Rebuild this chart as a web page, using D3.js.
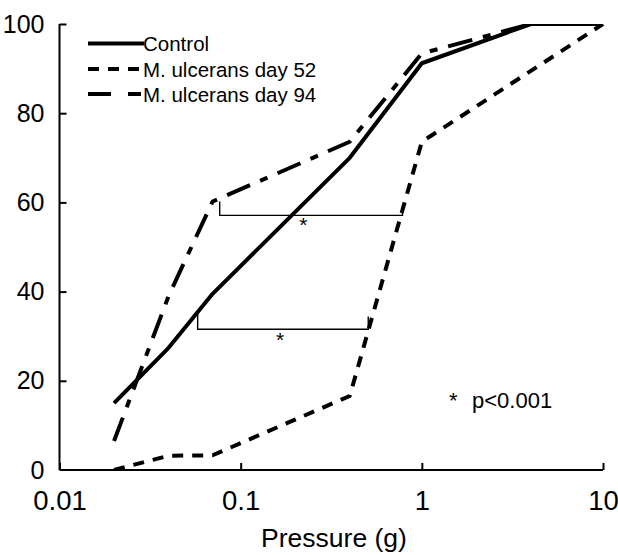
<!DOCTYPE html>
<html>
<head>
<meta charset="utf-8">
<script src="https://cdn.jsdelivr.net/npm/d3@7"></script>
<style>
  html, body { margin: 0; padding: 0; background: #fff; }
  text { font-family: "Liberation Sans", Arial, sans-serif; fill: #000; }
</style>
</head>
<body>
<svg id="chart" width="618" height="555"></svg>
<script>
// ---- data ----
const pressure = [0.02, 0.04, 0.07, 0.4, 1, 4, 10];
const controlValues = [15, 27.4, 39.5, 70, 91.2, 100, 100];
const day52Pressure = [0.02, 0.04, 0.07, 0.4, 1, 10];
const day52Values = [0, 3.2, 3.3, 16.6, 73.6, 100];
const day94Pressure = [0.02, 0.04, 0.07, 0.4, 1, 4];
const day94Values = [6.5, 39, 60.2, 73.6, 93.4, 100];
const seriesNames = ["Control", "M. ulcerans day 52", "M. ulcerans day 94"];
const xTicks = [0.01, 0.1, 1, 10];
const xTickLabels = ["0.01", "0.1", "1", "10"];
const yTicks = [0, 20, 40, 60, 80, 100];
// significance brackets (data units)
const bracketLeftX = [0.0766, 0.0579];
const bracketRightX = [0.782, 0.506];
const bracketBarY = [57.1, 31.55];
const bracketLeftTop = [60.2, 35.5];
const bracketRightTop = [59.4, 34.4];
const starX = [0.2216, 0.165];
const starY = [56.0, 30.3];

(function () {
// ---- layout ----
const svg = d3.select("#chart");
const mLeft = 59.5, mRight = 603, mTop = 24, mBottom = 470;
const x = d3.scaleLog().domain([0.01, 10]).range([mLeft, mRight]);
const y = d3.scaleLinear().domain([0, 100]).range([mBottom, mTop]);

const font = '"Liberation Sans", Arial, sans-serif';

// clip to plot area
svg.append("defs").append("clipPath").attr("id", "plotclip")
  .append("rect").attr("x", mLeft).attr("y", mTop)
  .attr("width", mRight - mLeft + 1).attr("height", mBottom - mTop);

// axes
const xAxis = d3.axisBottom(x).tickValues(xTicks)
  .tickFormat((d, i) => xTickLabels[i]).tickSize(-7).tickPadding(20);
const gx = svg.append("g").attr("transform", `translate(0,${mBottom})`).call(xAxis);
const yAxis = d3.axisLeft(y).tickValues(yTicks).tickSize(-7).tickPadding(15);
const gy = svg.append("g").attr("transform", `translate(${mLeft},0)`).call(yAxis);
[gx, gy].forEach(g => {
  g.select(".domain").attr("stroke", "#000").attr("stroke-width", 2);
  g.selectAll(".tick line").attr("stroke", "#000").attr("stroke-width", 2);
  g.selectAll(".tick text").attr("font-family", font).attr("fill", "#000");
});
gx.selectAll(".tick text").attr("font-size", 27.5);
gy.selectAll(".tick text").attr("font-size", 25);
gx.select(".domain").attr("d", `M${mLeft},0H${mRight}`);
gy.select(".domain").attr("d", `M0,${mTop}V${mBottom}`);
gy.selectAll(".tick").filter(d => d === 0).select("line").remove();

// series
const line = d3.line().x(d => x(d[0])).y(d => y(d[1]));
const plot = svg.append("g").attr("clip-path", "url(#plotclip)");
const series = [
  { pts: d3.zip(pressure, controlValues), dash: null },
  { pts: d3.zip(day52Pressure, day52Values), dash: "11,9" },
  { pts: d3.zip(day94Pressure, day94Values), dash: "25,11,8,11" }
];
series.forEach(s => {
  plot.append("path").datum(s.pts)
    .attr("d", line).attr("fill", "none").attr("stroke", "#000")
    .attr("stroke-width", 4).attr("stroke-linejoin", "round")
    .attr("stroke-dasharray", s.dash);
});

// brackets
bracketBarY.forEach((by, i) => {
  svg.append("path")
    .attr("d", `M${x(bracketLeftX[i])},${y(bracketLeftTop[i])}V${y(by)}H${x(bracketRightX[i])}V${y(bracketRightTop[i])}`)
    .attr("fill", "none").attr("stroke", "#000").attr("stroke-width", 1.4);
  svg.append("text").attr("x", x(starX[i])).attr("y", y(starY[i]) + 12)
    .attr("text-anchor", "middle").attr("font-size", 21).text("*");
});

// legend
const legendDash = [null, "11,9", "23,17,13"];
const legendY = [43.5, 69, 94];
seriesNames.forEach((name, i) => {
  svg.append("line").attr("x1", 88).attr("x2", 144)
    .attr("y1", legendY[i]).attr("y2", legendY[i])
    .attr("stroke", "#000").attr("stroke-width", 4)
    .attr("stroke-dasharray", legendDash[i]);
  svg.append("text").attr("x", 143).attr("y", legendY[i] + 7.5)
    .attr("font-size", 20.5).text(name);
});

// p-value note
svg.append("text").attr("x", 449).attr("y", 408).attr("font-size", 22).text("*");
svg.append("text").attr("x", 472).attr("y", 408).attr("font-size", 22).text("p<0.001");

// x axis title
svg.append("text").attr("x", 334).attr("y", 547).attr("text-anchor", "middle")
  .attr("font-size", 26.5).text("Pressure (g)");
})();
</script>
</body>
</html>
